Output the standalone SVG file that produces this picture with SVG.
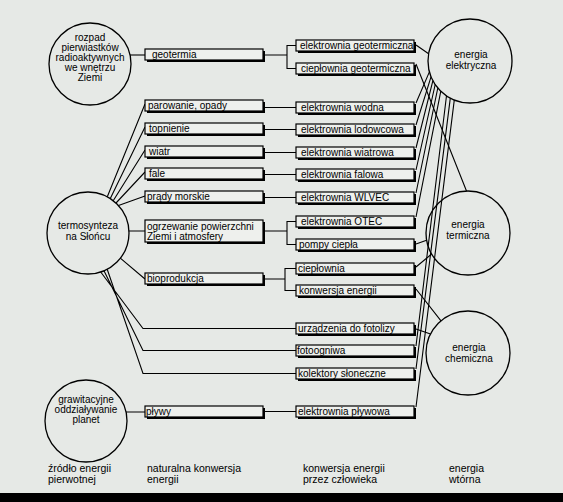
<svg xmlns="http://www.w3.org/2000/svg" width="563" height="502" viewBox="0 0 563 502">
<style>
.bg{fill:#e6e9e6}
.b{fill:#eef0ed;stroke:#000;stroke-width:1.2}
.s{fill:#000}
.t{font-family:"Liberation Sans",Arial,sans-serif;font-size:10px;fill:#000}
.lg{font-family:"Liberation Sans",Arial,sans-serif;font-size:10.5px;fill:#000}
.ct{font-family:"Liberation Sans",Arial,sans-serif;font-size:10px;fill:#000;text-anchor:middle}
.c{fill:none;stroke:#000;stroke-width:1.3}
.l{fill:none;stroke:#000;stroke-width:1.1}
</style>
<rect class="bg" x="0" y="0" width="563" height="502"/>
<rect class="s" x="0" y="493" width="563" height="9"/>

<g id="connectors">
<path class="l" d="M130,55 H145"/>
<path class="l" d="M265,55 H287 M296,45.5 H287 V68.5 H296"/>
<path class="l" d="M107.3,196.8 L145,104 M110.3,198.6 L145,127 M113.2,200.7 L145,150 M116,203 L145,172 M118.5,205.6 L145,196"/>
<path class="l" d="M129,231 H145 M120.3,258.2 L145,279"/>
<path class="l" d="M265,107.5 H296 M265,129.5 H296 M265,152.5 H296 M265,174.5 H296 M265,197.5 H296"/>
<path class="l" d="M265,231 H287 M296,221.5 H287 V244.5 H296"/>
<path class="l" d="M265,279 H285 M296,268.5 H285 V290.5 H296"/>
<path class="l" d="M100.7,272 L143,328.5 H296 M104,270.8 L143,350.5 H296 M107.2,269.2 L143,373.5 H296"/>
<path class="l" d="M126,412 H145 M265,411.5 H296"/>
<path class="l" d="M416,45 L428.6,53.7 M416,64 L466.5,191"/>
<path class="l" d="M416,103 L429.4,71.9 M416,125 L431.1,76.7 M416,148 L432.9,80.7 M416,170 L435.2,84.5 M416,193 L437.8,88 M416,217 L440.8,91.2"/>
<path class="l" d="M416,346 L446.5,95.8 M416,369 L450.3,98.1 M416,407 L454.3,99.9"/>
<path class="l" d="M416,244 L426.6,240.3 M416,267 L431.6,254 M416,289 L441,320.8 M416,329 L430.5,334"/>
</g>

<g id="src-rozpad"><circle class="c" cx="90" cy="64" r="41"/>
<text class="ct" x="90" y="41">rozpad</text><text class="ct" x="90" y="51">pierwiastków</text><text class="ct" x="90" y="61">radioaktywnych</text><text class="ct" x="90" y="71">we wnętrzu</text><text class="ct" x="90" y="81">Ziemi</text></g>
<g id="src-termosynteza"><circle class="c" cx="88" cy="233" r="41"/>
<text class="ct" x="88" y="229">termosynteza</text><text class="ct" x="88" y="240">na Słońcu</text></g>
<g id="src-grawitacja"><circle class="c" cx="86" cy="421" r="41"/>
<text class="ct" x="86" y="403">grawitacyjne</text><text class="ct" x="86" y="413">oddziaływanie</text><text class="ct" x="86" y="423">planet</text></g>

<g id="n-geotermia"><rect class="s" x="147" y="51" width="118" height="11"/><rect class="b" x="145" y="49" width="118" height="11"/><text class="t" x="152" y="58">geotermia</text></g>
<g id="n-parowanie"><rect class="s" x="147" y="102" width="118" height="11"/><rect class="b" x="145" y="100" width="118" height="11"/><text class="t" x="148" y="109">parowanie, opady</text></g>
<g id="n-topnienie"><rect class="s" x="147" y="125" width="118" height="11"/><rect class="b" x="145" y="123" width="118" height="11"/><text class="t" x="149" y="132">topnienie</text></g>
<g id="n-wiatr"><rect class="s" x="147" y="148" width="118" height="11"/><rect class="b" x="145" y="146" width="118" height="11"/><text class="t" x="149" y="155">wiatr</text></g>
<g id="n-fale"><rect class="s" x="147" y="170" width="118" height="11"/><rect class="b" x="145" y="168" width="118" height="11"/><text class="t" x="149" y="177">fale</text></g>
<g id="n-prady"><rect class="s" x="147" y="193" width="118" height="11"/><rect class="b" x="145" y="191" width="118" height="11"/><text class="t" x="147" y="200">prądy morskie</text></g>
<g id="n-ogrzewanie"><rect class="s" x="147" y="222" width="118" height="22"/><rect class="b" x="145" y="220" width="118" height="22"/><text class="t" x="147" y="230">ogrzewanie powierzchni</text><text class="t" x="147" y="240">Ziemi i atmosfery</text></g>
<g id="n-bioprodukcja"><rect class="s" x="147" y="275" width="118" height="11"/><rect class="b" x="145" y="273" width="118" height="11"/><text class="t" x="147" y="282">bioprodukcja</text></g>
<g id="n-plywy"><rect class="s" x="147" y="408" width="118" height="11"/><rect class="b" x="145" y="406" width="118" height="11"/><text class="t" x="146" y="415">pływy</text></g>

<g id="n-el-geot"><rect class="s" x="298" y="42" width="118" height="11"/><rect class="b" x="296" y="40" width="118" height="11"/><text class="t" x="300" y="49">elektrownia geotermiczna</text></g>
<g id="n-ciep-geot"><rect class="s" x="298" y="65" width="118" height="11"/><rect class="b" x="296" y="63" width="118" height="11"/><text class="t" x="301" y="72">ciepłownia geotermiczna</text></g>
<g id="n-wodna"><rect class="s" x="298" y="104" width="118" height="11"/><rect class="b" x="296" y="102" width="118" height="11"/><text class="t" x="301" y="111">elektrownia wodna</text></g>
<g id="n-lodowcowa"><rect class="s" x="298" y="126" width="118" height="11"/><rect class="b" x="296" y="124" width="118" height="11"/><text class="t" x="301" y="133">elektrownia lodowcowa</text></g>
<g id="n-wiatrowa"><rect class="s" x="298" y="149" width="118" height="11"/><rect class="b" x="296" y="147" width="118" height="11"/><text class="t" x="301" y="156">elektrownia wiatrowa</text></g>
<g id="n-falowa"><rect class="s" x="298" y="171" width="118" height="11"/><rect class="b" x="296" y="169" width="118" height="11"/><text class="t" x="301" y="178">elektrownia falowa</text></g>
<g id="n-wlvec"><rect class="s" x="298" y="194" width="118" height="11"/><rect class="b" x="296" y="192" width="118" height="11"/><text class="t" x="301" y="201">elektrownia WLVEC</text></g>
<g id="n-otec"><rect class="s" x="298" y="218" width="118" height="11"/><rect class="b" x="296" y="216" width="118" height="11"/><text class="t" x="301" y="225">elektrownia OTEC</text></g>
<g id="n-pompy"><rect class="s" x="298" y="241" width="118" height="11"/><rect class="b" x="296" y="239" width="118" height="11"/><text class="t" x="299" y="248">pompy ciepła</text></g>
<g id="n-cieplownia"><rect class="s" x="298" y="265" width="118" height="11"/><rect class="b" x="296" y="263" width="118" height="11"/><text class="t" x="298" y="272">ciepłownia</text></g>
<g id="n-konwersja"><rect class="s" x="298" y="287" width="118" height="11"/><rect class="b" x="296" y="285" width="118" height="11"/><text class="t" x="299" y="294">konwersja energii</text></g>
<g id="n-fotolizy"><rect class="s" x="298" y="325" width="118" height="11"/><rect class="b" x="296" y="323" width="118" height="11"/><text class="t" x="298" y="332">urządzenia do fotolizy</text></g>
<g id="n-fotoogniwa"><rect class="s" x="298" y="347" width="118" height="11"/><rect class="b" x="296" y="345" width="118" height="11"/><text class="t" x="297" y="354">fotoogniwa</text></g>
<g id="n-kolektory"><rect class="s" x="298" y="370" width="118" height="11"/><rect class="b" x="296" y="368" width="118" height="11"/><text class="t" x="298" y="377">kolektory słoneczne</text></g>
<g id="n-plywowa"><rect class="s" x="298" y="408" width="118" height="11"/><rect class="b" x="296" y="406" width="118" height="11"/><text class="t" x="298" y="415">elektrownia pływowa</text></g>

<g id="e-elektryczna"><circle class="c" cx="470" cy="61" r="42"/><text class="ct" x="471" y="58">energia</text><text class="ct" x="471" y="69">elektryczna</text></g>
<g id="e-termiczna"><circle class="c" cx="468" cy="233" r="42"/><text class="ct" x="468" y="228">energia</text><text class="ct" x="468" y="239">termiczna</text></g>
<g id="e-chemiczna"><circle class="c" cx="468" cy="353" r="42"/><text class="ct" x="469" y="351">energia</text><text class="ct" x="469" y="362">chemiczna</text></g>

<g id="legend">
<text class="lg" x="48" y="472">źródło energii</text><text class="lg" x="48" y="483">pierwotnej</text>
<text class="lg" x="147" y="472">naturalna konwersja</text><text class="lg" x="147" y="483">energii</text>
<text class="lg" x="303" y="472">konwersja energii</text><text class="lg" x="303" y="483">przez człowieka</text>
<text class="lg" x="449" y="472">energia</text><text class="lg" x="449" y="483">wtórna</text>
</g>
</svg>
